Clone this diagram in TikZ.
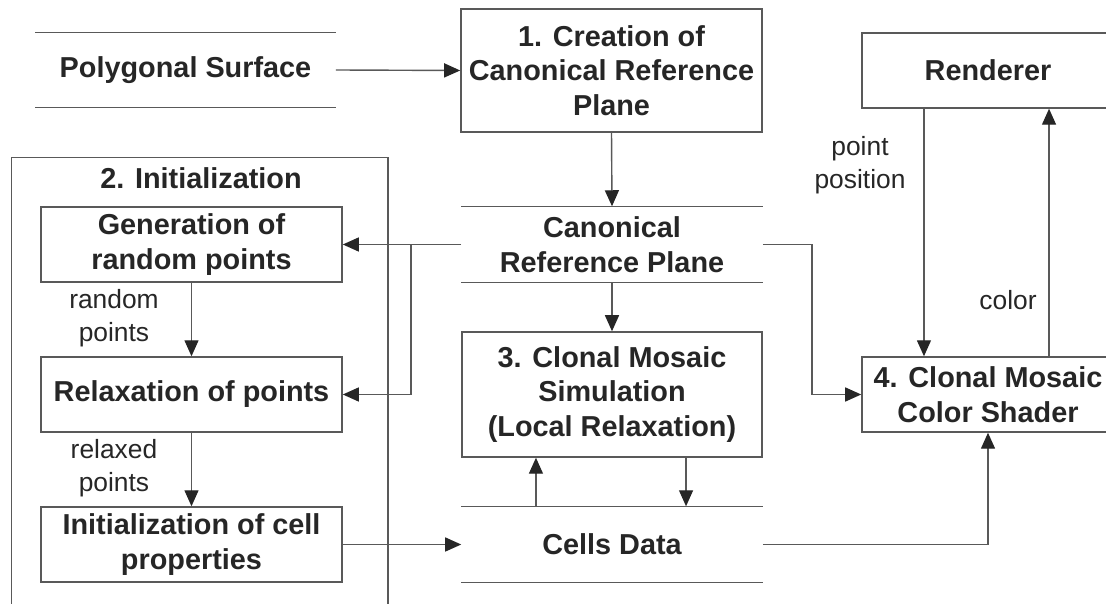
\documentclass[tikz,border=0pt]{standalone}
\usepackage{fontspec}
\setmainfont{Liberation Sans}
\usetikzlibrary{arrows.meta}

\begin{document}
\begin{tikzpicture}[x=0.01cm, y=-0.01cm,
		box/.style={draw=black!65, line width=0.4pt, align=center, inner sep=0pt, text=black!85, minimum width=3cm, minimum height=0.75cm, font=\fontsize{8.2}{9.8}\selectfont\bfseries},
		store/.style={align=center, inner sep=0pt, text=black!85, minimum width=3cm, minimum height=0.75cm, font=\fontsize{8.2}{9.8}\selectfont\bfseries},
		note/.style={align=center, inner sep=0pt, text=black!85, font=\fontsize{7.5}{9.3}\selectfont},
		storeline/.style={draw=black!65, line width=0.4pt},
		flow/.style={draw=black!65, line width=0.4pt, -{Triangle[length=0.16cm, width=0.14cm, color=black!85]}}]
		\useasboundingbox (0,0) rectangle (1106,604);

		% group 2
		\node (initgroup)[box, anchor=north west, minimum width=3.76cm, minimum height=4.6cm] at (11,157) {};
		\node (inittitle)[store, minimum height=0cm] at (201,178) {2. Initialization};

		\node (ps)[store, minimum width=2.99cm, minimum height=0.74cm] at (185.5,70) {Polygonal Surface};
		\node (create)[box, minimum width=3.01cm, minimum height=1.23cm] at (611.5,70.5) {1. Creation of\\Canonical Reference\\Plane};
		\node (rend)[box, minimum width=2.52cm] at (988,70.5) {Renderer};

		\node (crp)[store] at (612,244.5) {Canonical\\Reference Plane};
		\node (sim)[box, minimum height=1.25cm] at (612,394.5) {3. Clonal Mosaic\\Simulation\\(Local Relaxation)};
		\node (shader)[box, minimum width=2.52cm] at (988,394.5) {4. Clonal Mosaic\\Color Shader};
		\node (cd)[store] at (612,544.5) {Cells Data};

		\node (gen)[box, minimum width=3.01cm] at (191.5,244.5) {Generation of\\random points};
		\node (relax)[box, minimum width=3.01cm] at (191.5,394.5) {Relaxation of points};
		\node (cellinit)[box, minimum width=3.01cm] at (191.5,544.5) {Initialization of cell\\properties};

		% data store lines
		\foreach \s in {ps, crp, cd}
			\draw[storeline] (\s.north west) -- (\s.north east) (\s.south west) -- (\s.south east);

		% labels
		\node (lrandom)[note] at (114,318) {random\\points};
		\node (lrelaxed)[note] at (114,468) {relaxed\\points};
		\node (lpos)[note] at (860,165) {point\\position};
		\node (lcolor)[note] at (1008,300) {color};

		\coordinate (branch) at (411,244.5);

		% connectors
		\draw[flow] (ps.east) -- (create.west);
		\draw[flow] (create.south) -- (crp.north);
		\draw[flow] (crp.west) -- (gen.east);
		\draw[flow] (branch) |- (relax.east);
		\draw[flow] (gen.south) -- (relax.north);
		\draw[flow] (relax.south) -- (cellinit.north);
		\draw[flow] (cellinit.east) -- (cd.west);
		\draw[flow] (crp.south) -- (sim.north);
		\draw[flow] ([xshift=0.74cm]sim.south) -- ([xshift=0.74cm]cd.north);
		\draw[flow] ([xshift=-0.76cm]cd.north) -- ([xshift=-0.76cm]sim.south);
		\draw[flow] (crp.east) -- ++(49,0) |- (shader.west);
		\draw[flow] (cd.east) -| (shader.south);
		\draw[flow] ([xshift=-0.64cm]rend.south) -- ([xshift=-0.64cm]shader.north);
		\draw[flow] ([xshift=0.61cm]shader.north) -- ([xshift=0.61cm]rend.south);
	\end{tikzpicture}
\end{document}
